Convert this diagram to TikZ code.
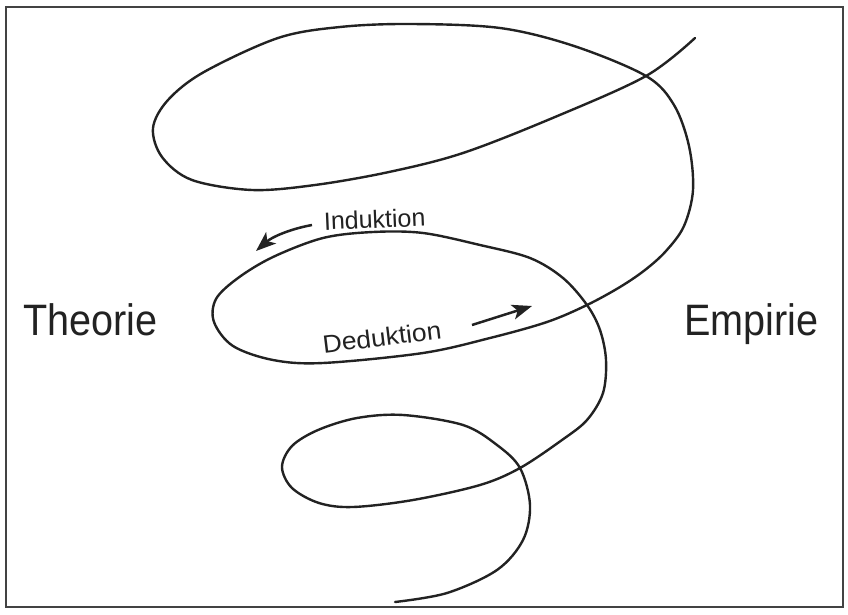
\documentclass[tikz,border=0pt]{standalone}
\usepackage{fontspec}
\setmainfont{Liberation Sans}
\usetikzlibrary{arrows.meta}
\definecolor{ink}{HTML}{222222}
\tikzset{
  spiral/.style={draw=ink, line width=2.4pt, line cap=round, line join=round},
  bigword/.style={inner sep=0pt, text=ink, font=\fontsize{44}{50}\selectfont, xscale=0.9},
  smallword/.style={inner sep=0pt, text=ink, font=\fontsize{25}{30}\selectfont},
  pointer/.style={draw=ink, line width=2.5pt, -{Stealth[length=20pt,width=15pt,inset=5pt]}},
  frame/.style={draw=ink!85, line width=1.6pt}
}
\begin{document}
\begin{tikzpicture}[x=1pt,y=-1pt]
\useasboundingbox (0,0) rectangle (848,615);
\draw[frame] (6,7) rectangle (843,607);
% spiral
\draw[spiral] plot[smooth, tension=0.55] coordinates {
 (695,38) (646,76) (555,117) (463,153) (389,172) (315,185) (252,190)
 (192,180) (162,157) (153,128) (168,100) (204,72) (278,38) (340,27)
 (410,24) (500,28) (574,46) (646,76) (674,105) (689,146) (693,190)
 (684,226) (666,251) (645,270) (620,287) (587,305) (547,322) (490,338)
 (423,353) (323,363) (273,360) (233,346) (214,322) (216,299) (238,278)
 (273,257) (323,238) (373,232) (423,233) (480,245) (530,258) (563,278)
 (587,305) (600,330) (606,360) (603,393) (587,420) (562,440) (520,468)
 (480,485) (413,500) (353,507) (319,503) (292,488) (282,467) (292,446)
 (318,430) (357,418) (403,415) (463,425) (497,445) (520,468) (530,505)
 (523,540) (497,570) (447,593) (395,602)};
% labels
\node[bigword, anchor=base west] (theorie) at (23,335) {Theorie};
\node[bigword, anchor=base west] (empirie) at (684,335) {Empirie};
\node[smallword, anchor=base, rotate=2.5] (ind) at (375,228) {Induktion};
\node[smallword, anchor=base, rotate=7, xscale=1.06] (ded) at (383,346) {Deduktion};
% arrows
\coordinate (ia) at (312,225);
\coordinate (ib) at (256,251);
\coordinate (da) at (472,325);
\coordinate (db) at (532,306);
\draw[pointer] (ia) .. controls (290,229) and (272,237) .. (ib);
\draw[pointer] (da) -- (db);
\end{tikzpicture}
\end{document}
